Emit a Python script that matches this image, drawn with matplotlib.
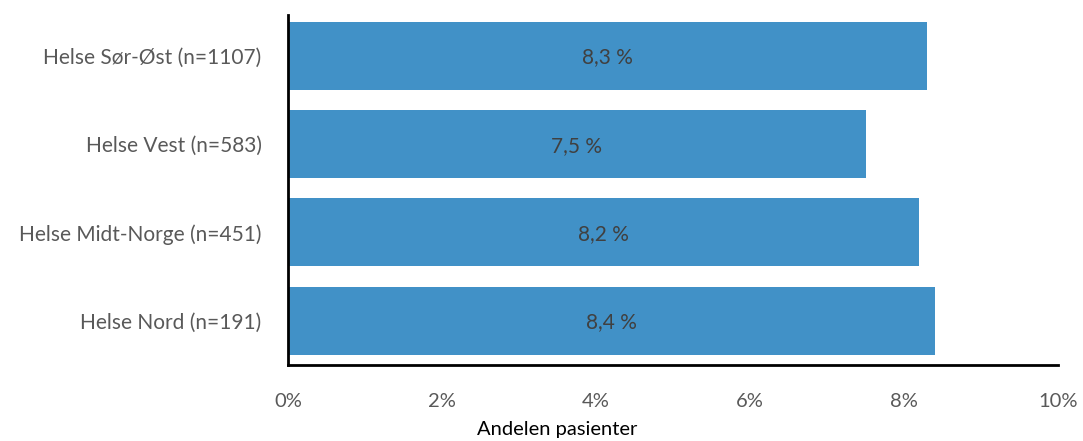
import matplotlib.pyplot as plt
from matplotlib.ticker import FuncFormatter

plt.rcParams['font.family'] = ['Lato', 'DejaVu Sans']

# data (bottom to top)
regions = ['Helse Nord (n=191)', 'Helse Midt-Norge (n=451)', 'Helse Vest (n=583)', 'Helse Sør-Øst (n=1107)']
shares = [8.4, 8.2, 7.5, 8.3]
bar_labels = ['8,4 %', '8,2 %', '7,5 %', '8,3 %']

fig = plt.figure(figsize=(10.83, 4.41), dpi=100)
ax = fig.add_axes([288/1083, 1-365/441, 770/1083, 350/441])

ypos = range(len(regions))
bars = ax.barh(ypos, shares, height=0.77, color='#4191C7')
for b, lab in zip(bars, bar_labels):
    ax.text(b.get_width()/2, b.get_y() + b.get_height()/2 - 0.02, lab,
            ha='center', va='center', fontsize=15, color='#404040')

ax.set_xlim(0, 10)
ax.set_ylim(-0.5, 3.46)
ax.set_xticks([0, 2, 4, 6, 8, 10])
ax.xaxis.set_major_formatter(FuncFormatter(lambda v, p: f'{v:.0f}%'))
ax.set_yticks(list(ypos))
ax.set_yticklabels(regions)
ax.tick_params(axis='both', length=0, labelsize=15, labelcolor='#595959')
ax.tick_params(axis='x', labelsize=14.5, pad=20)
ax.tick_params(axis='y', pad=19)

for s in ['top', 'right']:
    ax.spines[s].set_visible(False)
for s in ['left', 'bottom']:
    ax.spines[s].set_linewidth(2)
    ax.spines[s].set_color('black')

fig.text(557/1083, 1-430/441, 'Andelen pasienter', ha='center', va='center', fontsize=14.5, color='black')

fig.savefig('out.png', dpi=100)
